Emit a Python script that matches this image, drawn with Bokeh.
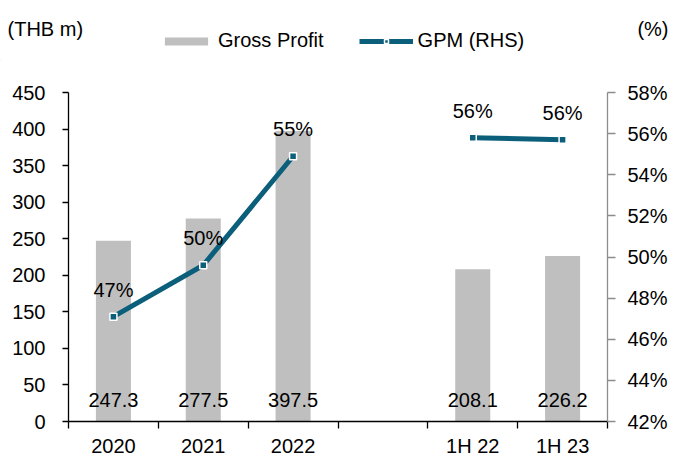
from bokeh.plotting import figure
from bokeh.models import (Range1d, LinearAxis, FixedTicker, PrintfTickFormatter,
                          ColumnDataSource, Legend, LegendItem)
from bokeh.core.properties import value
from bokeh.embed import file_html
from bokeh.resources import INLINE

# ---- data ----
categories = ["2020", "2021", "2022", "", "1H 22", "1H 23"]
gross_profit = [247.3, 277.5, 397.5, None, 208.1, 226.2]
gpm = [47.1, 49.6, 54.9, None, 55.8, 55.7]
left_ticks = [0, 50, 100, 150, 200, 250, 300, 350, 400, 450]
right_ticks = [42, 44, 46, 48, 50, 52, 54, 56, 58]
left_title = "(THB m)"
right_title = "(%)"
series_names = ["Gross Profit", "GPM (RHS)"]

FONT = "Liberation Sans"
FS = "20px"
BAR = "#BFBFBF"
TEAL = "#0B5F7A"
W = 675
HEAD_H = 60

x_centers = [i + 0.5 for i in range(len(categories))]

bar_src = ColumnDataSource(dict(
    x=[x for x, v in zip(x_centers, gross_profit) if v is not None],
    top=[v for v in gross_profit if v is not None],
    lab=[f"{v:.1f}" for v in gross_profit if v is not None],
    zero=[0 for v in gross_profit if v is not None],
))
line_src = ColumnDataSource(dict(
    x=x_centers,
    y=[float("nan") if v is None else v for v in gpm],
))
pt_src = ColumnDataSource(dict(
    x=[x for x, v in zip(x_centers, gpm) if v is not None],
    y=[v for v in gpm if v is not None],
    lab=[f"{v:.0f}%" for v in gpm if v is not None],
))

# ---------------- header (unit titles + legend) ----------------
h = figure(width=W, height=HEAD_H, output_backend="svg", toolbar_location=None,
           x_range=Range1d(0, W), y_range=Range1d(0, HEAD_H),
           x_axis_type=None, y_axis_type=None,
           min_border_left=0, min_border_right=0, min_border_top=0, min_border_bottom=0)
h.outline_line_color = None
h.xgrid.visible = False
h.ygrid.visible = False
h.text(x=[7], y=[HEAD_H - 28], text=[left_title], text_font=value(FONT),
       text_font_size=value(FS), text_align="left", text_baseline="middle",
       text_color="black")
h.text(x=[668], y=[HEAD_H - 28], text=[right_title], text_font=value(FONT),
       text_font_size=value(FS), text_align="right", text_baseline="middle",
       text_color="black")
# legend-only renderers, kept outside the visible range
off = [-1000, -999]
lg_bar = h.vbar(x=off, top=[1, 1], width=1, color=BAR, line_color=None)
lg_line = h.line(x=off, y=[1, 1], line_color=TEAL, line_width=5)
lg_mk = h.scatter(x=off, y=[1, 1], marker="square", size=7, fill_color=TEAL,
                  line_color="white", line_width=1.5)
legend = Legend(items=[LegendItem(label=series_names[0], renderers=[lg_bar], index=0),
                       LegendItem(label=series_names[1], renderers=[lg_line, lg_mk], index=0)],
                orientation="horizontal", location=(159, 8),
                glyph_width=54, glyph_height=10, label_standoff=5,
                spacing=35, padding=0, margin=0,
                label_text_font=FONT, label_text_font_size=FS,
                label_text_color="black",
                background_fill_alpha=0, border_line_color=None)
h.add_layout(legend, "center")

# ---------------- main chart ----------------
p = figure(width=W, height=459 - HEAD_H, output_backend="svg", toolbar_location=None,
           x_range=Range1d(0, len(categories)), y_range=Range1d(0, 450),
           min_border_left=68, min_border_right=68, min_border_top=92 - HEAD_H,
           min_border_bottom=37)
p.extra_y_ranges = {"gpm": Range1d(42, 58)}
p.outline_line_color = None
p.xgrid.visible = False
p.ygrid.visible = False

bars = p.vbar(x="x", top="top", width=0.39, source=bar_src, color=BAR, line_color=None)
p.text(x="x", y="zero", text="lab", source=bar_src, text_font=value(FONT),
       text_font_size=value(FS), text_align="center", text_baseline="middle",
       y_offset=-22, text_color="black")

ln = p.line(x="x", y="y", source=line_src, y_range_name="gpm", line_color=TEAL,
            line_width=5)
mk = p.scatter(x="x", y="y", source=pt_src, y_range_name="gpm", marker="square",
               size=7, fill_color=TEAL, line_color="white", line_width=1.5)
p.text(x="x", y="y", text="lab", source=pt_src, y_range_name="gpm",
       text_font=value(FONT), text_font_size=value(FS), text_align="center",
       text_baseline="middle", y_offset=-27, text_color="black")

# left axis
ya = p.yaxis[0]
ya.ticker = FixedTicker(ticks=left_ticks)
ya.major_tick_out = 6
ya.major_tick_in = 0
ya.minor_tick_line_color = None
ya.axis_line_color = "black"
ya.axis_line_width = 1.3
ya.major_tick_line_width = 1.3
ya.major_label_text_font = FONT
ya.major_label_text_font_size = FS
ya.major_label_text_color = "black"
ya.major_label_standoff = 17

# right axis
ra = LinearAxis(y_range_name="gpm", ticker=FixedTicker(ticks=right_ticks),
                formatter=PrintfTickFormatter(format="%d%%"))
ra.major_tick_out = 8
ra.major_tick_in = 0
ra.minor_tick_line_color = None
ra.axis_line_color = "#8C8C8C"
ra.major_tick_line_color = "#8C8C8C"
ra.axis_line_width = 1.3
ra.major_tick_line_width = 1.3
ra.major_label_text_font = FONT
ra.major_label_text_font_size = FS
ra.major_label_text_color = "black"
ra.major_label_standoff = 12
p.add_layout(ra, "right")

# bottom axis: labels at centres, tick marks at boundaries
xa = p.xaxis[0]
xa.ticker = FixedTicker(ticks=x_centers, minor_ticks=list(range(len(categories) + 1)))
xa.major_label_overrides = {x: c for x, c in zip(x_centers, categories)}
xa.major_tick_out = 0
xa.major_tick_in = 0
xa.minor_tick_out = 7
xa.minor_tick_in = 0
xa.minor_tick_line_color = "black"
xa.minor_tick_line_width = 1.3
xa.axis_line_color = "black"
xa.axis_line_width = 1.3
xa.major_label_text_font = FONT
xa.major_label_text_font_size = FS
xa.major_label_text_color = "black"
xa.major_label_standoff = 6

open("out.html", "w").write(file_html([h, p], INLINE))
